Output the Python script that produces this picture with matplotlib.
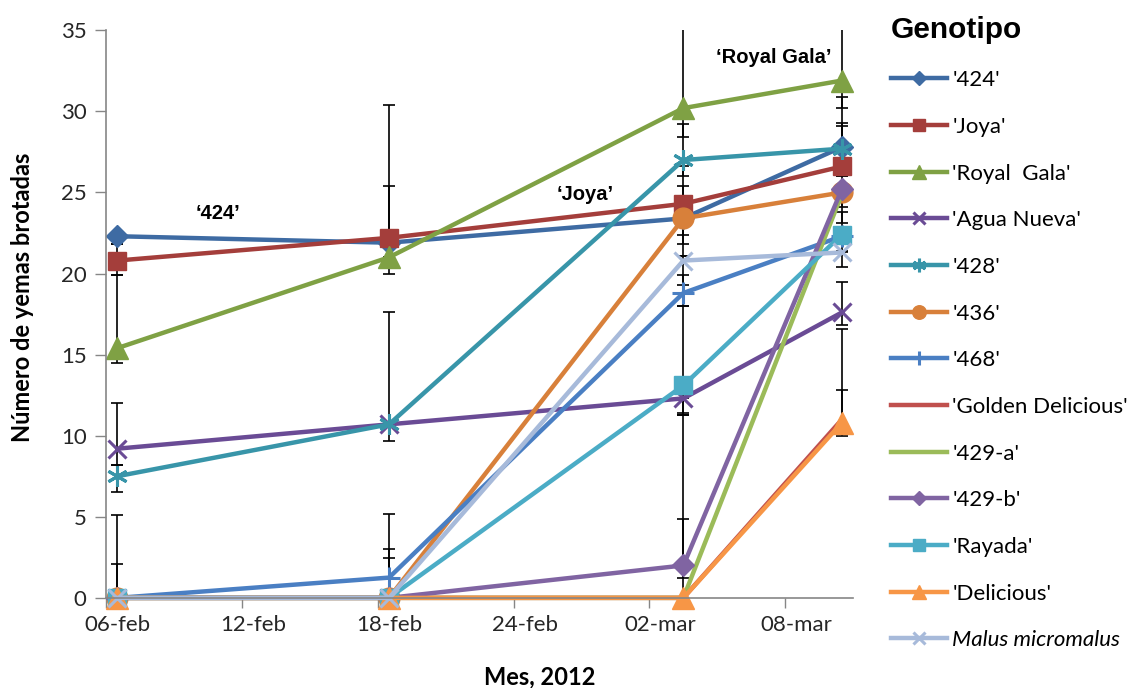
import numpy as np
import pandas as pd
import matplotlib
matplotlib.use("Agg")
import matplotlib.pyplot as plt

# fechas de muestreo (dias desde el 06-feb)
fechas = pd.to_datetime(["2012-02-06", "2012-02-18", "2012-03-02", "2012-03-09"])
dias = (fechas - fechas[0]).days.to_numpy()

genotipos = ["'424'", "'Joya'", "'Royal  Gala'", "'Agua Nueva'", "'428'", "'436'",
             "'468'", "'Golden Delicious'", "'429-a'", "'429-b'", "'Rayada'",
             "'Delicious'", "Malus micromalus"]

# numero de yemas brotadas (media) por genotipo
y_424 = [22.3, 21.9, 23.4, 27.8]
y_joya = [20.8, 22.2, 24.3, 26.6]
y_royal = [15.4, 21.0, 30.2, 31.9]
y_agua = [9.2, 10.7, 12.3, 17.6]
y_428 = [7.5, 10.7, 27.0, 27.7]
y_436 = [0.0, 0.0, 23.4, 25.0]
y_468 = [0.0, 1.25, 18.8, 22.3]
y_golden = [0.0, 0.0, 0.0, 11.0]
y_429a = [0.0, 0.0, 0.0, 24.9]
y_429b = [0.0, 0.0, 2.0, 25.2]
y_rayada = [0.0, 0.0, 13.1, 22.4]
y_delicious = [0.0, 0.0, 0.0, 10.8]
y_malus = [0.0, 0.0, 20.8, 21.3]

# barras de error (inferior, superior)
e_424 = ([0.5, 0.0, 1.0, 0.0], [0.0, 3.5, 2.0, 3.1])
e_joya = ([0.9, 0.0, 2.5, 0.6], [1.0, 8.2, 2.3, 2.5])
e_royal = ([0.9, 1.0, 1.8, 1.7], [4.5, 0.0, 6.0, 4.0])
e_agua = ([1.0, 0.0, 0.9, 0.8], [2.8, 0.0, 0.0, 1.9])
e_428 = ([1.0, 1.05, 1.0, 0.0], [0.7, 6.9, 2.2, 1.6])
e_436 = ([0.0, 0.0, 2.3, 0.5], [0.0, 0.0, 0.0, 1.0])
e_468 = ([0.0, 0.0, 0.8, 0.0], [2.1, 1.75, 1.1, 0.0])
e_golden = ([0.0, 0.0, 0.0, 1.0], [0.0, 0.0, 0.0, 1.8])
e_429a = ([0.0, 0.0, 0.0, 1.8], [0.0, 0.0, 4.85, 0.0])
e_429b = ([0.0, 0.0, 0.8, 1.1], [0.0, 0.0, 9.3, 0.0])
e_rayada = ([0.0, 0.0, 1.8, 1.0], [0.0, 2.45, 4.9, 1.4])
e_delicious = ([0.0, 0.0, 0.0, 0.6], [0.0, 0.0, 0.0, 5.8])
e_malus = ([0.0, 0.0, 1.5, 0.9], [5.1, 5.2, 0.3, 0.0])

valores = [y_424, y_joya, y_royal, y_agua, y_428, y_436, y_468, y_golden,
           y_429a, y_429b, y_rayada, y_delicious, y_malus]
errores = [e_424, e_joya, e_royal, e_agua, e_428, e_436, e_468, e_golden,
           e_429a, e_429b, e_rayada, e_delicious, e_malus]

etiquetas_x = ["06-feb", "12-feb", "18-feb", "24-feb", "02-mar", "08-mar"]

colores = ["#3E6BA3", "#A43E3B", "#7FA144", "#6A4B95", "#3895A9", "#D8803A",
           "#4A7FC3", "#C0504D", "#9BBB59", "#8064A2", "#4BACC6", "#F79646", "#A7BADA"]
marcadores = ["D", "s", "^", "x", (6, 2, 0), "o", "+", None, None, "D", "s", "^", "x"]
tamanos = [11, 13, 16, 13, 15, 15, 16, 0, 0, 11, 13, 16, 13]

plt.rcParams["font.family"] = ["Lato", "DejaVu Sans"]

fig = plt.figure(figsize=(11.46, 6.88), dpi=100)
ax = fig.add_axes([0.0925, 0.131, 0.652, 0.825])

for i, nombre in enumerate(genotipos):
    lo, hi = errores[i]
    ax.errorbar(dias, valores[i], yerr=[lo, hi], fmt="none", ecolor="black",
                elinewidth=1.2, capsize=4.5, capthick=1.2, zorder=1.5)
for i, nombre in enumerate(genotipos):
    m = marcadores[i]
    mew = 2.2 if m in ("x", "+") or isinstance(m, tuple) else 1
    ax.plot(dias, valores[i], color=colores[i], lw=3.2, marker=m, ms=tamanos[i],
            mew=mew, label=nombre, clip_on=False, zorder=2 + i * 0.01)

ax.set_xlim(-0.5, 32.5)
ax.set_ylim(0, 35)

ax.set_xticks(np.arange(0, 31, 6))
ax.set_xticklabels(etiquetas_x)
ax.set_xticks(np.arange(0, 31, 6) - 0.5, minor=True)
ax.tick_params(axis="x", which="major", length=0, pad=12, labelsize=16, colors="#262626")
ax.tick_params(axis="x", which="minor", length=7, width=1, color="#868686", direction="out")
ax.set_yticks(np.arange(0, 36, 5))
ax.tick_params(axis="y", length=8, width=1, color="#868686", labelsize=16,
               labelcolor="#262626", pad=6)

for s in ["top", "right"]:
    ax.spines[s].set_visible(False)
for s in ["left", "bottom"]:
    ax.spines[s].set_color("#868686")
    ax.spines[s].set_linewidth(1.2)

ax.set_ylabel("Número de yemas brotadas", fontsize=17, fontweight="bold", va="center")
ax.yaxis.set_label_coords(-0.112, 0.53)
ax.set_xlabel("Mes, 2012", fontsize=17, fontweight="bold", va="center")
ax.xaxis.set_label_coords(0.58, -0.139)

for txt, fx, fy in [("\u2018424\u2019", 0.190, 0.690), ("\u2018Joya\u2019", 0.511, 0.717),
                    ("\u2018Royal Gala\u2019", 0.675, 0.917)]:
    fig.text(fx, fy, txt, fontsize=14.5, fontweight="bold", family="Liberation Sans",
             ha="center", va="center")

leg = fig.legend(loc="upper left", bbox_to_anchor=(0.764, 1.0), frameon=False,
                 fontsize=16, handlelength=2.5, handletextpad=0.25, labelspacing=1.2,
                 borderpad=0.2, markerscale=0.65, title="Genotipo", alignment="left",
                 title_fontproperties={"family": "Liberation Sans", "weight": "bold", "size": 21.5})
leg.get_texts()[-1].set_style("italic")

fig.savefig("out.png", dpi=100)
